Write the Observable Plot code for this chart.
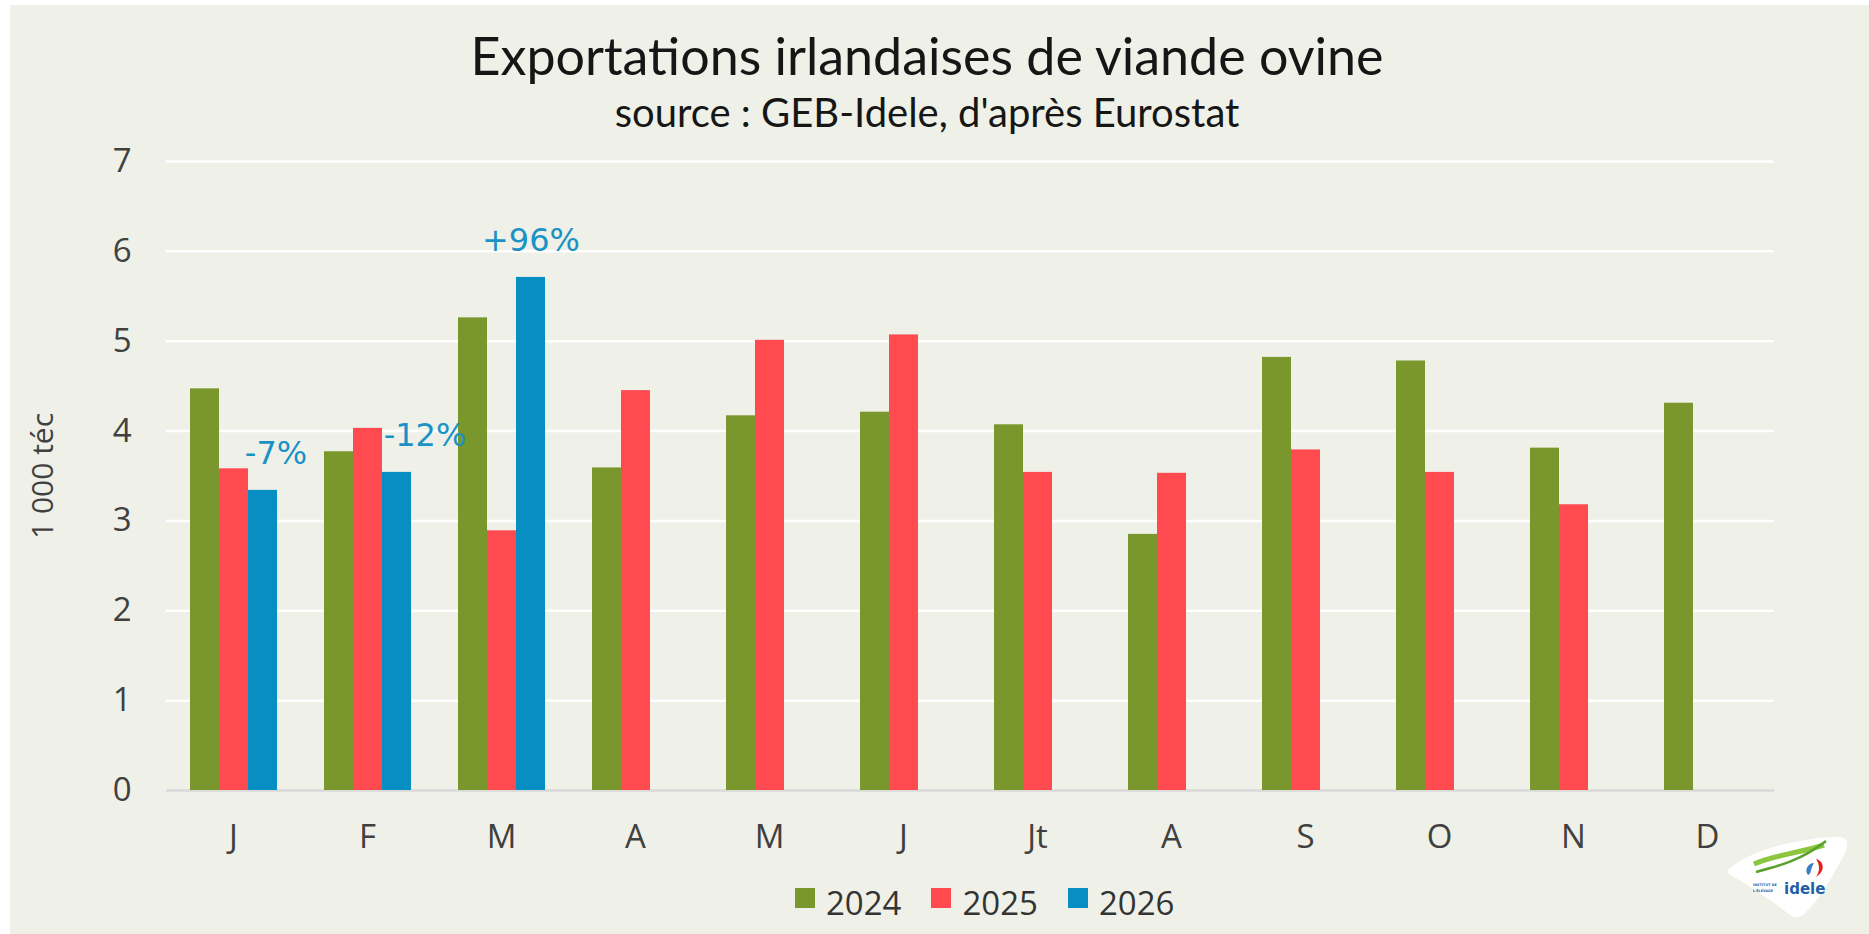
<!DOCTYPE html>
<html>
<head>
<meta charset="utf-8">
<script src="https://cdn.jsdelivr.net/npm/d3@7"></script>
<script src="https://cdn.jsdelivr.net/npm/@observablehq/plot@0.6"></script>
<style>
  html, body { margin: 0; padding: 0; background: #ffffff; }
  #page { position: relative; width: 1869px; height: 934px; overflow: hidden; background: #ffffff; }
  #bg { position: absolute; left: 10px; top: 5px; right: 0; bottom: 0; background: #eff0e7; }
  .title { position: absolute; left: 0; width: 1854px; text-align: center; font-family: Lato, "Noto Sans", sans-serif; color: #161616; line-height: 1; white-space: nowrap; }
  #ylabel { position: absolute; left: 42px; top: 476px; transform: translate(-50%, -50%) rotate(-90deg); font-family: "Open Sans", sans-serif; font-size: 30px; color: #404040; white-space: nowrap; line-height: 1; }
  #chart { position: absolute; left: 0; top: 0; }
  #legend { position: absolute; left: 795px; top: 886px; display: flex; align-items: flex-start; font-family: "Open Sans", sans-serif; font-size: 33px; color: #333333; line-height: 1; }
  .item { display: flex; align-items: flex-start; margin-right: 30px; }
  .sw { width: 20px; height: 20px; margin-top: 2px; margin-right: 11px; }
  #logo { position: absolute; left: 1722px; top: 828px; }
</style>
</head>
<body>
<div id="page">
  <div id="bg"></div>
  <div class="title" style="top:29px;font-size:52px;">Exportations irlandaises de viande ovine</div>
  <div class="title" style="top:92px;font-size:40px;">source : GEB-Idele, d'après Eurostat</div>
  <div id="chart"></div>
  <div id="ylabel">1 000 téc</div>
  <div id="legend"></div>
  <svg id="logo" width="130" height="95" viewBox="0 0 130 95">
    <path d="M8,40 C34,18 94,8 118,9 C128,10 126,19 122,27 C109,52 94,76 82,86 C76,92 70,89 64,84 C44,68 24,56 10,48 C4,45 4,43 8,40 Z" fill="#ffffff"/>
    <path d="M32,36 C52,27 77,25 102,17" stroke="#8cc63f" stroke-width="5" fill="none"/>
    <path d="M34,44 C57,38 80,32 104,13" stroke="#5aa02c" stroke-width="2.5" fill="none"/>
    <path d="M86,47 C82,42 86,35 92,35 C88,41 90,45 86,47 Z" fill="#3b7fc4"/>
    <path d="M94,49 C98,43 98,37 94,31 C102,33 104,43 94,49 Z" fill="#e2231a"/>
    <text x="31" y="58" font-family="DejaVu Sans" font-size="3.4" font-weight="bold" fill="#1f5fa8">INSTITUT DE</text>
    <text x="31" y="64" font-family="DejaVu Sans" font-size="3.4" font-weight="bold" fill="#1f5fa8">L'ÉLEVAGE</text>
    <text x="62" y="66" font-family="DejaVu Sans" font-size="15" font-weight="bold" fill="#1f5fa8">idele</text>
  </svg>
</div>
<script>
// ---- Data ----
const months = ["J", "F", "M", "A", "M", "J", "Jt", "A", "S", "O", "N", "D"];
const years = ["2024", "2025", "2026"];
const v2024 = [4.47, 3.77, 5.26, 3.59, 4.17, 4.21, 4.07, 2.85, 4.82, 4.78, 3.81, 4.31];
const v2025 = [3.58, 4.03, 2.89, 4.45, 5.01, 5.07, 3.54, 3.53, 3.79, 3.54, 3.18, null];
const v2026 = [3.34, 3.54, 5.71, null, null, null, null, null, null, null, null, null];
const changeLabels = ["-7%", "-12%", "+96%"];
const colors = ["#7a972e", "#ff4a50", "#078fc4"];
const yTicks = [0, 1, 2, 3, 4, 5, 6, 7];

// ---- Table built from the arrays ----
const series = [v2024, v2025, v2026];
const rows = [];
months.forEach((m, i) => {
  years.forEach((yr, j) => {
    const v = series[j][i];
    if (v != null) rows.push({key: i, year: yr, value: v});
  });
});
const labelRows = changeLabels.map((lab, i) => ({key: i, year: "2026", value: v2026[i], label: lab}));
const labelDx = [13, 28, 0];

const chart = Plot.plot({
  width: 1869,
  height: 880,
  marginTop: 161,
  marginBottom: 90,
  marginLeft: 166,
  marginRight: 95,
  style: {background: "transparent", fontFamily: "'Open Sans', sans-serif", fontSize: "33px", color: "#404040", overflow: "visible"},
  fx: {domain: d3.range(months.length), padding: 0, label: null},
  x: {domain: years, paddingInner: 0, paddingOuter: 0.757, axis: null},
  y: {domain: [0, 7], axis: null},
  color: {domain: years, range: colors},
  marks: [
    Plot.gridY(yTicks.filter(t => t > 0), {stroke: "#ffffff", strokeOpacity: 1, strokeWidth: 2.5}),
    Plot.ruleY([0], {stroke: "#d9d9d9", strokeWidth: 2.5}),
    Plot.barY(rows, {fx: "key", x: "year", y: "value", fill: "year", inset: 0}),
    Plot.axisY({ticks: yTicks, tickFormat: d3.format("d"), tickSize: 0, tickPadding: 35, label: null, fill: "#404040"}),
    Plot.axisFx({anchor: "bottom", tickSize: 0, tickPadding: 34, label: null, tickFormat: i => months[i], fill: "#404040"}),
    ...labelRows.map((d, i) => Plot.text([d], {
      fx: "key", x: "year", y: "value", text: "label",
      dy: -37, dx: labelDx[i], lineAnchor: "middle",
      fill: "#1a92c6", fontSize: 32, fontFamily: "DejaVu Sans"
    }))
  ]
});
document.getElementById("chart").appendChild(chart);

// ---- Legend ----
const legend = document.getElementById("legend");
years.forEach((yr, j) => {
  const item = document.createElement("div");
  item.className = "item";
  const sw = document.createElement("div");
  sw.className = "sw";
  sw.style.background = colors[j];
  const t = document.createElement("span");
  t.textContent = yr;
  item.appendChild(sw);
  item.appendChild(t);
  legend.appendChild(item);
});
</script>
</body>
</html>
